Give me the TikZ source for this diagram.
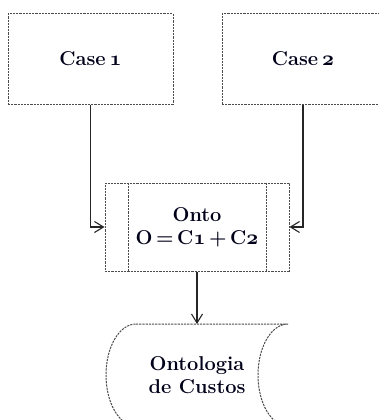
\documentclass[tikz,border=0pt]{standalone}
\usetikzlibrary{arrows.meta,calc}
% bold old-style digits, taken from the bold math italic font
\newcommand\osnum[1]{{\boldmath$\mathnormal{#1}$}}
\begin{document}
\begin{tikzpicture}[x=1pt,y=-1pt,
  every node/.style={font=\bfseries\fontsize{20}{23}\selectfont, align=center, text=black!90!blue},
  dashedbox/.style={draw=black!70, line width=1pt, dash pattern=on 2.2pt off 1pt},
  procbox/.style={dashedbox, rectangle, inner sep=0pt},
  conn/.style={draw=black!85, line width=1.1pt, -{Straight Barb[length=9pt,width=11pt,line width=1.1pt]}}]
  \useasboundingbox (0,0) rectangle (379,420);
  \clip (0,0) rectangle (379,420);

  % source cases
  \node[procbox, minimum width=165pt, minimum height=90pt] (case1) at (90.5,59) {Case\hspace{0.2em}\osnum{1}};
  \node[procbox, minimum width=162pt, minimum height=90pt] (case2) at (303,59) {Case\hspace{0.2em}\osnum{2}};

  % predefined process: the merged ontology
  \node[procbox, minimum width=184pt, minimum height=88pt] (onto) at (197,227)
    {Onto\\O\hspace{0.18em}=\hspace{0.18em}C\osnum{1}\hspace{0.18em}+\hspace{0.18em}C\osnum{2}};
  \draw[dashedbox] ($(onto.north west)+(24,0)$) -- ($(onto.south west)+(24,0)$);
  \draw[dashedbox] ($(onto.north east)+(-23,0)$) -- ($(onto.south east)+(-23,0)$);

  % stored data shape
  \draw[dashedbox] (136,324) -- (288,324)
    arc[start angle=90, end angle=270, x radius=30pt, y radius=51pt]
    -- (136,426)
    arc[start angle=270, end angle=90, x radius=30pt, y radius=51pt] -- cycle;
  \node (store) at (197,375) {Ontologia\\de Custos};
  \coordinate (storetop) at (197,324);

  % connectors
  \draw[conn] (case1.south) |- (onto.west);
  \draw[conn] (case2.south) |- (onto.east);
  \draw[conn] (onto.south) -- (storetop);
\end{tikzpicture}
\end{document}
